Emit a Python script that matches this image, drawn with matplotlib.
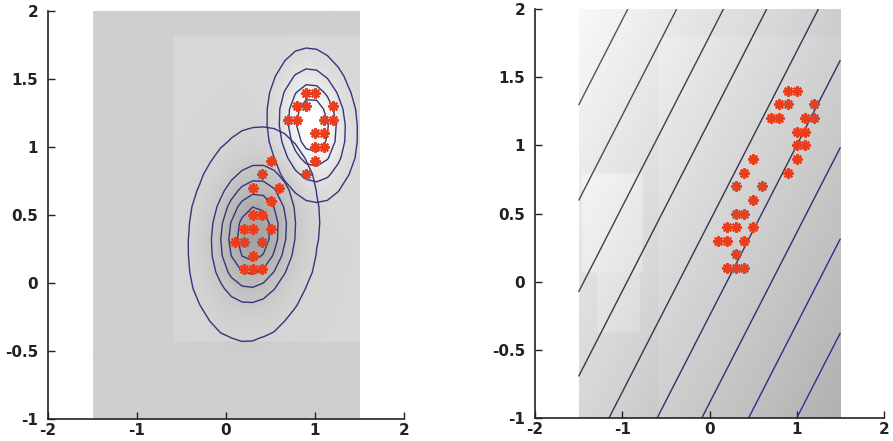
import numpy as np
import matplotlib
matplotlib.use('Agg')
import matplotlib.pyplot as plt
from matplotlib.colors import LinearSegmentedColormap

# ---------------- data ----------------
# cluster 1 (lower)
c1_x = [0.5, 0.4, 0.3, 0.6, 0.5, 0.3, 0.4, 0.2, 0.3, 0.5, 0.1, 0.2, 0.4, 0.3, 0.2, 0.3, 0.4]
c1_y = [0.9, 0.8, 0.7, 0.7, 0.6, 0.5, 0.5, 0.4, 0.4, 0.4, 0.3, 0.3, 0.3, 0.2, 0.1, 0.1, 0.1]
# cluster 2 (upper)
c2_x = [0.9, 1.0, 0.8, 0.9, 1.2, 0.7, 0.8, 1.1, 1.2, 1.0, 1.1, 1.0, 1.1, 1.0, 0.9]
c2_y = [1.4, 1.4, 1.3, 1.3, 1.3, 1.2, 1.2, 1.2, 1.2, 1.1, 1.1, 1.0, 1.0, 0.9, 0.8]

# left panel: fitted density components (centre x, centre y, sd x, sd y, corr)
comp1 = [0.31, 0.36, 0.30, 0.32, 0.12]
comp2 = [0.97, 1.16, 0.25, 0.28, -0.10]
# contour levels of each component (fraction of its peak)
levels1 = [0.05, 0.29, 0.47, 0.65, 0.82]
levels2 = [0.135, 0.34, 0.56, 0.77]

# right panel: linear function y - slope*x, level values (intercepts)
right_slope = 1.25
right_levels = [-2.25, -1.56, -0.89, -0.25, 0.44, 1.18, 1.80, 2.47, 3.17]

x_ticks = [-2, -1, 0, 1, 2]
y_ticks = [-1, -0.5, 0, 0.5, 1, 1.5, 2]
y_tick_labels = ['-1', '-0.5', '0', '0.5', '1', '1.5', '2']
x_tick_labels = ['-2', '-1', '0', '1', '2']

# ---------------- helpers ----------------
def gshape(X, Y, comp, widen=1.0):
    mx, my, sx, sy, r = comp
    sx = sx * widen
    sy = sy * widen
    dx = (X - mx) / sx
    dy = (Y - my) / sy
    d = (dx * dx - 2 * r * dx * dy + dy * dy) / (1 - r * r)
    return np.exp(-0.5 * d)

plt.rcParams['font.family'] = ['DejaVu Sans']

fig = plt.figure(figsize=(8.93, 4.41), dpi=100)
fig.patch.set_facecolor('white')

ax1 = fig.add_axes([48 / 893, 1 - 419 / 441, 356 / 893, 408 / 441])
ax2 = fig.add_axes([535 / 893, 1 - 418 / 441, 349 / 893, 409 / 441])

ext = [-1.5, 1.5, -1, 2]

# ----- left panel -----
fx = np.linspace(-1.5, 1.5, 301)
fy = np.linspace(-1, 2, 301)
FX, FY = np.meshgrid(fx, fy)
s1 = gshape(FX, FY, comp1, 1.0)
s2 = gshape(FX, FY, comp2, 0.9)
bg = 0.81 - 0.20 * s1 + 0.17 * s2
patch = (FX > -0.6) & (FY > -0.43) & (FY < 1.82)
bg = bg + 0.03 * patch
bg = np.clip(bg, 0, 1)
ax1.imshow(bg, extent=ext, origin='lower', cmap='gray', vmin=0, vmax=1,
           interpolation='bilinear', aspect='auto', zorder=0)

gx = np.linspace(-1.5, 1.5, 26)
gy = np.linspace(-1.0, 2.0, 26)
GX, GY = np.meshgrid(gx, gy)
ax1.contour(GX, GY, gshape(GX, GY, comp1), levels=levels1,
            colors='#35357a', linewidths=1.0, zorder=2)
ax1.contour(GX, GY, gshape(GX, GY, comp2), levels=levels2,
            colors='#35357a', linewidths=1.0, zorder=2)

star = dict(marker=(8, 2, 0), linestyle='none', color='#e8401e',
            markersize=7.5, markeredgewidth=1.6, zorder=3)
ax1.plot(c1_x, c1_y, **star)
ax1.plot(c2_x, c2_y, **star)

# ----- right panel -----
F = FY - right_slope * FX
bg2 = 0.80 + 0.045 * F
patch2 = (FX > -0.6) & (FY < 1.81)
bg2 = bg2 + 0.02 * patch2
bg2 = bg2 + 0.04 * ((FX > -1.47) & (FX < -0.77) & (FY > 0.07) & (FY < 0.8))
bg2 = bg2 + 0.03 * ((FX > -1.3) & (FX < -0.8) & (FY > -0.38) & (FY < 0.07))
bg2 = np.clip(bg2, 0, 1)
ax2.imshow(bg2, extent=ext, origin='lower', cmap='gray', vmin=0, vmax=1,
           interpolation='bilinear', aspect='auto', zorder=0)

lcmap = LinearSegmentedColormap.from_list('lc', ['#2c2ca0', '#30306a', '#3a3a3a', '#555555'])
ax2.contour(FX, FY, F, levels=right_levels, cmap=lcmap, linewidths=1.0, zorder=2)
ax2.plot(c1_x, c1_y, **star)
ax2.plot(c2_x, c2_y, **star)

for ax in (ax1, ax2):
    ax.set_xlim(-2, 2)
    ax.set_ylim(-1, 2)
    ax.set_xticks(x_ticks)
    ax.set_xticklabels(x_tick_labels)
    ax.set_yticks(y_ticks)
    ax.set_yticklabels(y_tick_labels)
    ax.set_facecolor('white')
    for s in ('top', 'right'):
        ax.spines[s].set_visible(False)
    for s in ('left', 'bottom'):
        ax.spines[s].set_linewidth(1.2)
        ax.spines[s].set_color('#222222')
    ax.tick_params(direction='in', length=5, width=1, color='#222222',
                   labelsize=11, pad=7)
    for lab in ax.get_xticklabels() + ax.get_yticklabels():
        lab.set_fontweight('bold')
        lab.set_color('#222222')
    ax.tick_params(axis='x', pad=3)

fig.savefig('out.png', dpi=100, facecolor='white')
